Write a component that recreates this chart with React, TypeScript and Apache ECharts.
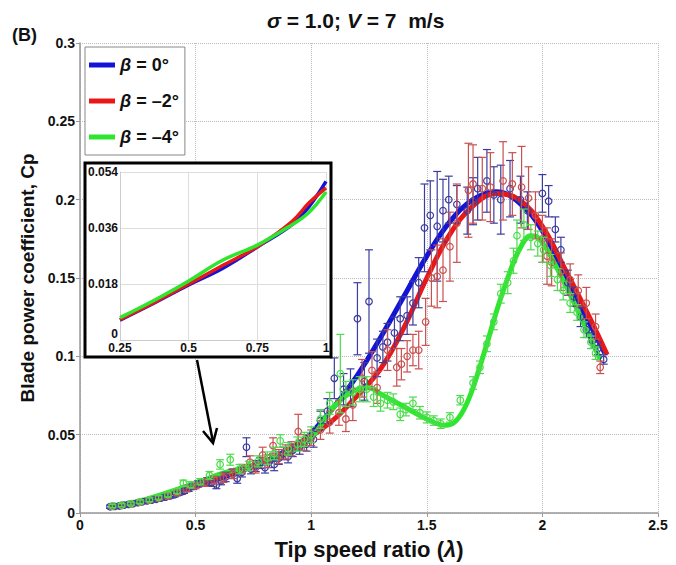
import React, { useEffect, useRef } from 'react';
import * as echarts from 'echarts';

const FONT = '"Liberation Sans", Arial, Helvetica, sans-serif';

// tick values of the main and inset axes
const xTicks = [0, 0.5, 1, 1.5, 2, 2.5];
const yTicks = [0, 0.05, 0.1, 0.15, 0.2, 0.25, 0.3];
const insetXTicks = [0.25, 0.5, 0.75, 1];
const insetYTicks = [0, 0.018, 0.036, 0.054];

const seriesNames = ['β = 0°', 'β = –2°', 'β = –4°'];

// measured points: [tip speed ratio, Cp, error half-width]
const blueData: number[][] = [
  [0.13, 0.004, 0.001], [0.15, 0.0042, 0.001], [0.17, 0.0045, 0.001], [0.19, 0.005, 0.001],
  [0.21, 0.0055, 0.001], [0.23, 0.006, 0.001], [0.25, 0.0066, 0.001], [0.27, 0.0072, 0.001],
  [0.29, 0.0078, 0.0012], [0.31, 0.0082, 0.0012], [0.33, 0.0088, 0.0012], [0.35, 0.0095, 0.0012],
  [0.37, 0.0102, 0.0012], [0.39, 0.011, 0.0015], [0.41, 0.0118, 0.0015], [0.43, 0.013, 0.0015],
  [0.45, 0.014, 0.0015], [0.47, 0.0158, 0.002], [0.49, 0.017, 0.002], [0.51, 0.0185, 0.002],
  [0.53, 0.019, 0.002], [0.55, 0.02, 0.0025], [0.57, 0.0195, 0.0025], [0.59, 0.018, 0.0025],
  [0.61, 0.0205, 0.0025], [0.63, 0.023, 0.003], [0.66, 0.025, 0.003], [0.68, 0.022, 0.003],
  [0.7, 0.026, 0.003], [0.72, 0.042, 0.006], [0.74, 0.028, 0.003], [0.76, 0.03, 0.0035],
  [0.78, 0.032, 0.0035], [0.8, 0.029, 0.0035], [0.82, 0.033, 0.004], [0.84, 0.031, 0.004],
  [0.86, 0.035, 0.004], [0.88, 0.038, 0.004], [0.9, 0.036, 0.004], [0.92, 0.04, 0.004],
  [0.95, 0.042, 0.0045], [0.98, 0.044, 0.0045], [1.01, 0.047, 0.005], [1.04, 0.059, 0.006],
  [1.07, 0.065, 0.008], [1.1, 0.086, 0.013], [1.14, 0.079, 0.01], [1.17, 0.08, 0.012],
  [1.2, 0.124, 0.023], [1.23, 0.084, 0.012], [1.25, 0.135, 0.033], [1.285, 0.099, 0.012],
  [1.31, 0.106, 0.01], [1.33, 0.109, 0.012], [1.36, 0.115, 0.01], [1.385, 0.124, 0.014],
  [1.415, 0.126, 0.012], [1.44, 0.134, 0.014], [1.465, 0.147, 0.016], [1.49, 0.182, 0.028],
  [1.515, 0.19, 0.022], [1.545, 0.183, 0.035], [1.57, 0.193, 0.02], [1.595, 0.2, 0.015],
  [1.63, 0.197, 0.012], [1.675, 0.193, 0.015], [1.7, 0.199, 0.015], [1.72, 0.207, 0.02],
  [1.76, 0.212, 0.02], [1.79, 0.203, 0.018], [1.82, 0.2, 0.022], [1.86, 0.207, 0.018],
  [1.905, 0.2, 0.015], [1.935, 0.193, 0.012], [2.0, 0.204, 0.012], [2.027, 0.199, 0.01],
  [2.056, 0.181, 0.008], [2.08, 0.168, 0.008], [2.11, 0.147, 0.008], [2.135, 0.138, 0.006],
  [2.165, 0.125, 0.006], [2.19, 0.117, 0.005], [2.215, 0.11, 0.005], [2.24, 0.105, 0.004],
  [2.265, 0.098, 0.003],
];

const redData: number[][] = [
  [0.14, 0.0042, 0.001], [0.18, 0.0048, 0.001], [0.22, 0.0058, 0.001], [0.26, 0.007, 0.001],
  [0.3, 0.0082, 0.0012], [0.34, 0.0095, 0.0012], [0.38, 0.011, 0.0015], [0.42, 0.013, 0.0015],
  [0.46, 0.0155, 0.002], [0.5, 0.0175, 0.002], [0.54, 0.0195, 0.0025], [0.58, 0.021, 0.0025],
  [0.62, 0.0225, 0.003], [0.66, 0.025, 0.003], [0.7, 0.028, 0.003], [0.735, 0.0325, 0.004],
  [0.76, 0.029, 0.0035], [0.79, 0.037, 0.005], [0.81, 0.033, 0.004], [0.835, 0.043, 0.005],
  [0.86, 0.036, 0.0045], [0.89, 0.039, 0.0045], [0.915, 0.041, 0.0045], [0.944, 0.052, 0.011],
  [0.97, 0.045, 0.005], [1.0, 0.048, 0.005], [1.04, 0.053, 0.006], [1.08, 0.058, 0.007],
  [1.12, 0.064, 0.008], [1.15, 0.06, 0.008], [1.18, 0.069, 0.01], [1.22, 0.086, 0.012],
  [1.263, 0.091, 0.012], [1.285, 0.08, 0.01], [1.33, 0.104, 0.013], [1.37, 0.093, 0.012],
  [1.39, 0.095, 0.01], [1.415, 0.1, 0.01], [1.44, 0.104, 0.01], [1.465, 0.104, 0.012],
  [1.495, 0.122, 0.015], [1.52, 0.15, 0.018], [1.545, 0.151, 0.02], [1.57, 0.155, 0.02],
  [1.6, 0.17, 0.022], [1.63, 0.185, 0.025], [1.68, 0.206, 0.03], [1.7, 0.21, 0.025],
  [1.74, 0.207, 0.02], [1.775, 0.208, 0.022], [1.83, 0.212, 0.025], [1.87, 0.21, 0.02],
  [1.91, 0.208, 0.026], [1.94, 0.201, 0.02], [1.97, 0.19, 0.015], [2.0, 0.175, 0.015],
  [2.02, 0.164, 0.018], [2.04, 0.16, 0.015], [2.08, 0.154, 0.012], [2.12, 0.149, 0.01],
  [2.155, 0.142, 0.01], [2.19, 0.134, 0.01], [2.23, 0.119, 0.008], [2.25, 0.093, 0.004],
];

const greenData: number[][] = [
  [0.14, 0.0045, 0.001], [0.18, 0.005, 0.001], [0.22, 0.006, 0.001], [0.26, 0.0072, 0.0012],
  [0.3, 0.0085, 0.0012], [0.34, 0.01, 0.0012], [0.38, 0.0118, 0.0015], [0.42, 0.014, 0.0015],
  [0.447, 0.019, 0.002], [0.48, 0.018, 0.002], [0.52, 0.02, 0.002], [0.56, 0.024, 0.0025],
  [0.606, 0.031, 0.003], [0.65, 0.034, 0.0035], [0.69, 0.028, 0.003], [0.73, 0.03, 0.003],
  [0.77, 0.033, 0.0035], [0.81, 0.035, 0.004], [0.84, 0.038, 0.004], [0.866, 0.046, 0.004],
  [0.9, 0.041, 0.004], [0.94, 0.044, 0.0045], [0.97, 0.047, 0.0045], [1.0, 0.05, 0.005],
  [1.04, 0.06, 0.006], [1.08, 0.07, 0.007], [1.126, 0.089, 0.025], [1.15, 0.076, 0.008],
  [1.18, 0.077, 0.008], [1.21, 0.079, 0.008], [1.24, 0.079, 0.008], [1.27, 0.074, 0.006],
  [1.3, 0.07, 0.005], [1.33, 0.072, 0.005], [1.355, 0.071, 0.005], [1.385, 0.063, 0.004],
  [1.41, 0.066, 0.004], [1.44, 0.07, 0.004], [1.47, 0.064, 0.004], [1.5, 0.061, 0.0035],
  [1.53, 0.059, 0.003], [1.56, 0.057, 0.003], [1.6, 0.061, 0.003], [1.645, 0.072, 0.003],
  [1.7, 0.083, 0.004], [1.73, 0.093, 0.004], [1.76, 0.108, 0.005], [1.79, 0.122, 0.005],
  [1.82, 0.14, 0.006], [1.85, 0.147, 0.007], [1.875, 0.161, 0.008], [1.89, 0.177, 0.01],
  [1.92, 0.184, 0.01], [1.95, 0.176, 0.008], [1.98, 0.172, 0.008], [2.005, 0.168, 0.008],
  [2.035, 0.158, 0.007], [2.065, 0.149, 0.007], [2.09, 0.142, 0.006], [2.12, 0.134, 0.006],
  [2.15, 0.128, 0.005], [2.18, 0.117, 0.005], [2.21, 0.109, 0.004], [2.23, 0.102, 0.004],
];

// fitted curves: [tip speed ratio, Cp]
const blueFit: number[][] = [
  [0.13, 0.0038], [0.25, 0.0064], [0.375, 0.0119], [0.5, 0.0177], [0.625, 0.0231], [0.75, 0.0299],
  [0.875, 0.037], [0.9375, 0.0428], [1.0, 0.051], [1.1, 0.068], [1.2, 0.088], [1.3, 0.112],
  [1.4, 0.138], [1.5, 0.164], [1.6, 0.186], [1.7, 0.2], [1.8, 0.205], [1.9, 0.198],
  [2.0, 0.18], [2.1, 0.15], [2.2, 0.122], [2.27, 0.102],
];
const redFit: number[][] = [
  [0.13, 0.004], [0.25, 0.0066], [0.375, 0.0121], [0.5, 0.018], [0.625, 0.024], [0.75, 0.03],
  [0.875, 0.038], [0.9375, 0.044], [1.0, 0.0489], [1.1, 0.06], [1.2, 0.075], [1.3, 0.092],
  [1.4, 0.118], [1.5, 0.15], [1.6, 0.178], [1.7, 0.196], [1.8, 0.204], [1.9, 0.2],
  [2.0, 0.183], [2.1, 0.155], [2.2, 0.126], [2.28, 0.101],
];
const greenFit: number[][] = [
  [0.13, 0.0042], [0.25, 0.0072], [0.375, 0.0128], [0.5, 0.019], [0.625, 0.0257], [0.75, 0.0305],
  [0.875, 0.037], [0.9375, 0.041], [1.0, 0.0476], [1.1, 0.068], [1.2, 0.079], [1.25, 0.08],
  [1.3, 0.076], [1.4, 0.068], [1.5, 0.06], [1.58, 0.056], [1.62, 0.058], [1.66, 0.066],
  [1.7, 0.08], [1.76, 0.108], [1.8, 0.128], [1.85, 0.15], [1.9, 0.168], [1.95, 0.177],
  [1.98, 0.176], [2.05, 0.16], [2.15, 0.13], [2.25, 0.098],
];

const fitColors = ['#1414d6', '#e81818', '#2ee62e'];
const barColors = ['#3c3ca0', '#c85050', '#4cdc4c'];

const errorBars = (name: string, data: number[][], color: string) => ({
  name,
  type: 'custom',
  xAxisIndex: 0,
  yAxisIndex: 0,
  z: 3,
  encode: { x: 0, y: 1 },
  data,
  renderItem: (_params: any, api: any) => {
    const x = api.value(0);
    const y = api.value(1);
    const e = api.value(2);
    const c = api.coord([x, y]);
    const top = api.coord([x, y + e]);
    const bot = api.coord([x, y - e]);
    const stroke = { stroke: color, lineWidth: 1.2 };
    return {
      type: 'group',
      children: [
        { type: 'line', shape: { x1: c[0], y1: top[1], x2: c[0], y2: bot[1] }, style: stroke },
        { type: 'line', shape: { x1: c[0] - 4, y1: top[1], x2: c[0] + 4, y2: top[1] }, style: stroke },
        { type: 'line', shape: { x1: c[0] - 4, y1: bot[1], x2: c[0] + 4, y2: bot[1] }, style: stroke },
        { type: 'circle', shape: { cx: c[0], cy: c[1], r: 3.3 }, style: { ...stroke, fill: 'rgba(0,0,0,0)' } },
      ],
    };
  },
});

const fitLine = (name: string, data: number[][], color: string, inset: boolean) => ({
  name,
  type: 'line',
  xAxisIndex: inset ? 1 : 0,
  yAxisIndex: inset ? 1 : 0,
  z: inset ? 7 : 2,
  data: inset ? data.filter((d) => d[0] >= 0.25 && d[0] <= 1) : data,
  smooth: 0.4,
  showSymbol: false,
  symbol: 'none',
  itemStyle: { color },
  lineStyle: { color, width: inset ? 3.5 : 5 },
});

const App: React.FC = () => {
  const chartRef = useRef<HTMLDivElement>(null);

  useEffect(() => {
    document.body.style.margin = '0';
    if (!chartRef.current) return;
    const chart = echarts.init(chartRef.current, undefined, { renderer: 'svg' });

    const boldLabel = { color: '#111', fontFamily: FONT, fontWeight: 'bold' as const };
    const italic = (size: number) => ({
      fontStyle: 'italic', fontWeight: 'bold', fontSize: size, fontFamily: FONT, color: '#111',
    });

    const option: any = {
      animation: false,
      backgroundColor: '#fff',
      title: {
        text: '{i|σ} = 1.0; {i|V} = 7  m/s',
        left: 262,
        top: 5,
        textStyle: { ...boldLabel, fontSize: 21, rich: { i: italic(21) } },
      },
      legend: {
        data: seriesNames,
        orient: 'vertical',
        left: 85,
        top: 47,
        padding: [9, 6, 9, 4],
        itemGap: 18,
        itemWidth: 26,
        itemHeight: 5,
        icon: 'rect',
        borderColor: '#888',
        borderWidth: 1,
        backgroundColor: '#fff',
        formatter: (name: string) => '{i|β}' + name.slice(1),
        textStyle: { ...boldLabel, fontSize: 18, rich: { i: italic(18) } },
      },
      grid: [
        { left: 80, right: 18, top: 43, bottom: 52 },
        { left: 120, top: 172, width: 206, height: 168 },
      ],
      xAxis: [
        {
          type: 'value',
          min: xTicks[0],
          max: xTicks[xTicks.length - 1],
          interval: 0.5,
          name: 'Tip speed ratio ({i|λ})',
          nameLocation: 'middle',
          nameGap: 25,
          nameTextStyle: { ...boldLabel, fontSize: 22, rich: { i: italic(22) } },
          axisLine: { lineStyle: { color: '#999', width: 1.5 } },
          axisTick: { show: true, length: 4, lineStyle: { color: '#999' } },
          axisLabel: { ...boldLabel, fontSize: 14, margin: 5 },
          splitLine: { show: true, lineStyle: { color: '#bbb', type: 'dotted', width: 1 } },
        },
        {
          type: 'value',
          gridIndex: 1,
          min: insetXTicks[0],
          max: insetXTicks[insetXTicks.length - 1],
          interval: 0.25,
          z: 6,
          axisLine: { lineStyle: { color: '#ccc' } },
          axisTick: { show: false },
          axisLabel: { ...boldLabel, fontSize: 12, margin: 2 },
          splitLine: { show: true, lineStyle: { color: '#ddd', width: 1 } },
        },
      ],
      yAxis: [
        {
          type: 'value',
          min: yTicks[0],
          max: yTicks[yTicks.length - 1],
          interval: 0.05,
          name: 'Blade power coefficient, Cp',
          nameLocation: 'middle',
          nameGap: 42,
          nameTextStyle: { ...boldLabel, fontSize: 19 },
          axisLine: { show: true, lineStyle: { color: '#999', width: 1.5 } },
          axisTick: { show: true, length: 4, lineStyle: { color: '#999' } },
          axisLabel: { ...boldLabel, fontSize: 14, margin: 5 },
          splitLine: { show: true, lineStyle: { color: '#bbb', type: 'dotted', width: 1 } },
        },
        {
          type: 'value',
          gridIndex: 1,
          min: insetYTicks[0],
          max: insetYTicks[insetYTicks.length - 1],
          interval: 0.018,
          z: 6,
          axisLine: { show: true, lineStyle: { color: '#ccc' } },
          axisTick: { show: false },
          axisLabel: {
            ...boldLabel,
            fontSize: 12,
            margin: 2,
            formatter: (v: number) => (v === 0 ? '{z|0}' : String(v)),
            rich: { z: { ...boldLabel, fontSize: 12, padding: [0, 0, 12, 0] } },
          },
          splitLine: { show: true, lineStyle: { color: '#ddd', width: 1 } },
        },
      ],
      graphic: [
        {
          type: 'text',
          left: 12,
          top: 26,
          style: { text: '(B)', fill: '#111', font: `bold 18px ${FONT}` },
        },
        {
          type: 'rect',
          z: 5,
          shape: { x: 85, y: 163, width: 246, height: 194 },
          style: { fill: '#fff', stroke: '#000', lineWidth: 3 },
        },
        {
          type: 'line',
          z: 5,
          shape: { x1: 197, y1: 360, x2: 213, y2: 442 },
          style: { stroke: '#000', lineWidth: 2.5 },
        },
        {
          type: 'polyline',
          z: 5,
          shape: { points: [[203, 431], [213, 443], [217, 428]] },
          style: { stroke: '#000', lineWidth: 2.5, fill: null },
        },
      ],
      series: [
        fitLine(seriesNames[0], blueFit, fitColors[0], false),
        fitLine(seriesNames[1], redFit, fitColors[1], false),
        fitLine(seriesNames[2], greenFit, fitColors[2], false),
        errorBars('blue data', blueData, barColors[0]),
        errorBars('red data', redData, barColors[1]),
        errorBars('green data', greenData, barColors[2]),
        fitLine('inset ' + seriesNames[0], blueFit, fitColors[0], true),
        fitLine('inset ' + seriesNames[1], redFit, fitColors[1], true),
        fitLine('inset ' + seriesNames[2], greenFit, fitColors[2], true),
      ],
    };

    chart.setOption(option);
    return () => chart.dispose();
  }, []);

  return <div ref={chartRef} style={{ width: 676, height: 565 }} />;
};

export default App;
